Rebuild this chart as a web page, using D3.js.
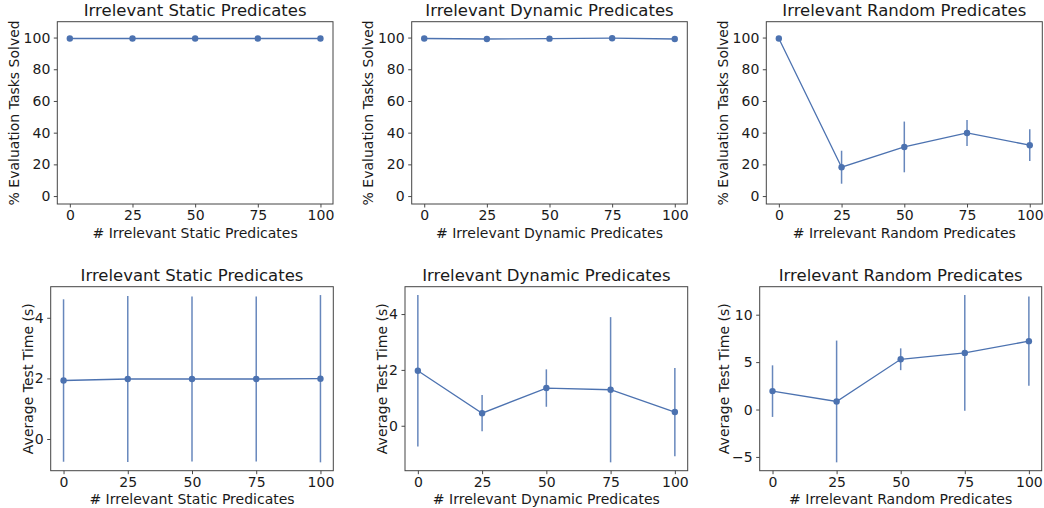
<!DOCTYPE html>
<html>
<head>
<meta charset="utf-8">
<script src="https://cdn.jsdelivr.net/npm/d3@7"></script>
<style>
  body { margin: 0; background: #fff; }
  svg { display: block; font-family: "DejaVu Sans", sans-serif; }
</style>
</head>
<body>
<svg id="chart" width="1044" height="508"></svg>
<script>
// ---- data ----
const xValues = [0, 25, 50, 75, 100];
const xTicks = [0, 25, 50, 75, 100];

const staticSolvedMean  = [99.4, 99.4, 99.4, 99.4, 99.4];
const staticSolvedErr   = [0.3, 0.3, 0.3, 0.3, 0.3];
const dynamicSolvedMean = [99.4, 99.1, 99.3, 99.6, 99.1];
const dynamicSolvedErr  = [0.3, 0.3, 0.3, 0.3, 0.3];
const randomSolvedMean  = [99.4, 18.2, 31.0, 39.8, 32.1];
const randomSolvedErr   = [0.3, 10.4, 16.0, 8.2, 10.0];

const staticTimeMean  = [1.93, 1.98, 1.98, 1.98, 1.99];
const staticTimeErr   = [2.68, 2.74, 2.72, 2.72, 2.76];
const dynamicTimeMean = [1.97, 0.45, 1.35, 1.29, 0.49];
const dynamicTimeErr  = [2.71, 0.65, 0.67, 2.60, 1.58];
const randomTimeMean  = [1.94, 0.85, 5.30, 5.97, 7.21];
const randomTimeErr   = [2.72, 6.42, 1.15, 6.10, 4.70];

const solvedTicks = [0, 20, 40, 60, 80, 100];
const timeTicksStatic = [0, 2, 4];
const timeTicksDynamic = [0, 2, 4];
const timeTicksRandom = [-5, 0, 5, 10];

const titles = ["Irrelevant Static Predicates", "Irrelevant Dynamic Predicates", "Irrelevant Random Predicates"];
const xLabels = ["# Irrelevant Static Predicates", "# Irrelevant Dynamic Predicates", "# Irrelevant Random Predicates"];
const solvedLabel = "% Evaluation Tasks Solved";
const timeLabel = "Average Test Time (s)";

// ---- layout ----
const color = "#4c72b0";
const panels = [
  {box: [57.3, 333, 21.7, 204],   mean: staticSolvedMean,  err: staticSolvedErr,  yTicks: solvedTicks, yFixed: [-5, 110], title: titles[0], xl: xLabels[0], yl: solvedLabel, ylOff: 43},
  {box: [411.7, 687.3, 21.7, 204], mean: dynamicSolvedMean, err: dynamicSolvedErr, yTicks: solvedTicks, yFixed: [-5, 110], title: titles[1], xl: xLabels[1], yl: solvedLabel, ylOff: 43.4},
  {box: [766.3, 1042.3, 21.7, 204], mean: randomSolvedMean, err: randomSolvedErr, yTicks: solvedTicks, yFixed: [-5, 110], title: titles[2], xl: xLabels[2], yl: solvedLabel, ylOff: 43},
  {box: [50.7, 333.3, 286.7, 470.7], mean: staticTimeMean,  err: staticTimeErr,  yTicks: timeTicksStatic, title: titles[0], xl: xLabels[0], yl: timeLabel, ylOff: 23},
  {box: [405, 687.7, 286.7, 470.7],  mean: dynamicTimeMean, err: dynamicTimeErr, yTicks: timeTicksDynamic, title: titles[1], xl: xLabels[1], yl: timeLabel, ylOff: 23.3},
  {box: [759.7, 1041.7, 286.7, 470.7], mean: randomTimeMean, err: randomTimeErr, yTicks: timeTicksRandom, title: titles[2], xl: xLabels[2], yl: timeLabel, ylOff: 35.7}
];

const svg = d3.select("#chart");
const fmt = d3.format("");

panels.forEach(p => {
  const [L, R, T, B] = p.box;
  const x = d3.scaleLinear().domain([-5, 105]).range([L, R]);
  let yDom = p.yFixed;
  if (!yDom) {
    const lo = d3.min(p.mean, (m, i) => m - p.err[i]);
    const hi = d3.max(p.mean, (m, i) => m + p.err[i]);
    const pad = (hi - lo) * 0.05;
    yDom = [lo - pad, hi + pad];
  }
  const y = d3.scaleLinear().domain(yDom).range([B, T]);
  const g = svg.append("g");

  // axes
  const xAxis = d3.axisBottom(x).tickValues(xTicks).tickSize(3.5).tickPadding(3).tickFormat(fmt);
  const yAxis = d3.axisLeft(y).tickValues(p.yTicks).tickSize(3.5).tickPadding(3.5).tickFormat(d => d < 0 ? "\u2212" + Math.abs(d) : d);
  const gx = g.append("g").attr("transform", `translate(0,${B})`).call(xAxis);
  const gy = g.append("g").attr("transform", `translate(${L},0)`).call(yAxis);
  [gx, gy].forEach(a => {
    a.select(".domain").remove();
    a.selectAll(".tick line").attr("stroke", "#333").attr("stroke-width", 0.9);
    a.selectAll(".tick text").attr("font-size", 14).attr("fill", "#1a1a1a").attr("font-family", "DejaVu Sans");
  });
  gx.selectAll(".tick text").attr("dy", "0.71em");

  // frame
  g.append("rect").attr("x", L).attr("y", T).attr("width", R - L).attr("height", B - T)
    .attr("fill", "none").attr("stroke", "#444").attr("stroke-width", 1);

  // error bars
  g.selectAll(".eb").data(xValues).enter().append("line")
    .attr("x1", d => x(d)).attr("x2", d => x(d))
    .attr("y1", (d, i) => y(p.mean[i] - p.err[i]))
    .attr("y2", (d, i) => y(p.mean[i] + p.err[i]))
    .attr("stroke", color).attr("stroke-width", 1.5).attr("stroke-opacity", 0.85);

  // line
  const line = d3.line().x(d => x(d[0])).y(d => y(d[1]));
  g.append("path").datum(xValues.map((v, i) => [v, p.mean[i]]))
    .attr("d", line).attr("fill", "none").attr("stroke", color).attr("stroke-width", 1.3);

  // markers
  g.selectAll(".pt").data(xValues).enter().append("circle")
    .attr("cx", d => x(d)).attr("cy", (d, i) => y(p.mean[i])).attr("r", 3.2).attr("fill", color);

  // title
  g.append("text").attr("x", (L + R) / 2).attr("y", T - 5.5).attr("text-anchor", "middle")
    .attr("font-size", 16.5).attr("fill", "#1a1a1a").text(p.title);
  // x label
  g.append("text").attr("x", (L + R) / 2).attr("y", B + 33.5).attr("text-anchor", "middle")
    .attr("font-size", 14).attr("fill", "#1a1a1a").text(p.xl);
  // y label
  g.append("text").attr("transform", `translate(${L - p.ylOff},${(T + B) / 2}) rotate(-90)`)
    .attr("text-anchor", "middle").attr("dominant-baseline", "central")
    .attr("font-size", 14).attr("fill", "#1a1a1a").text(p.yl);
});
</script>
</body>
</html>
